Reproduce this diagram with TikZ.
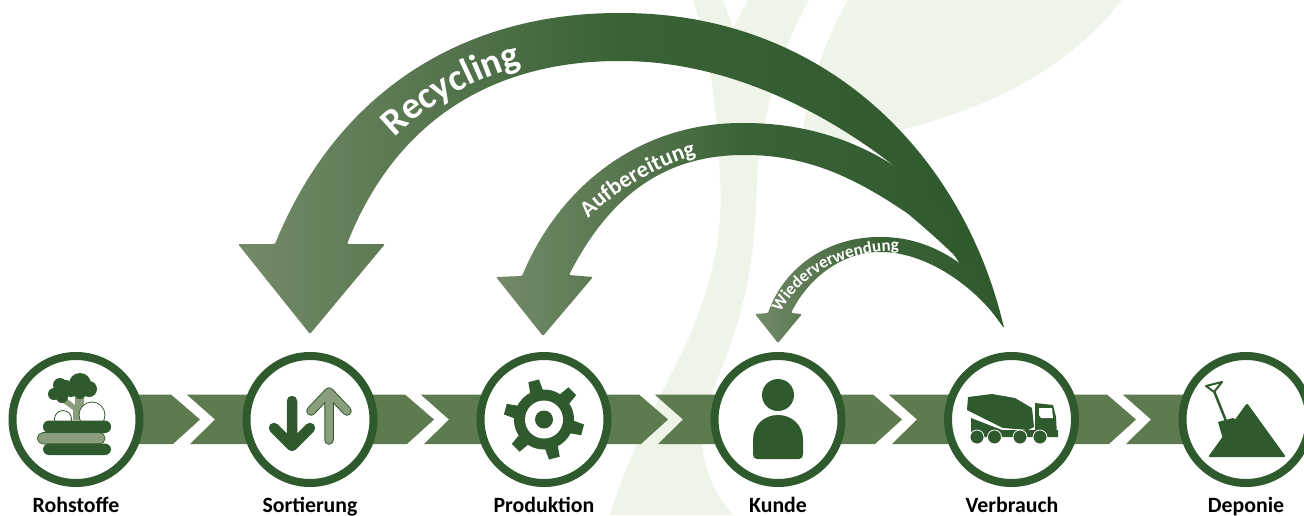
\documentclass[tikz,border=0pt]{standalone}
\usepackage{fontspec}
\setmainfont{Carlito}
\usetikzlibrary{decorations.text}

\definecolor{ringgreen}{HTML}{2F5A2D}
\definecolor{bandgreen}{HTML}{5E7A4F}
\definecolor{palegreen}{HTML}{8A9E7D}
\definecolor{arrowlight}{HTML}{748A68}
\definecolor{leafgreen}{HTML}{EEF5E8}

\tikzset{
    station/.style={circle,draw=ringgreen,line width=8pt,fill=white,minimum size=127pt,inner sep=0pt},
    stationlabel/.style={anchor=base,font=\fontsize{21.8}{24}\selectfont\bfseries,text=black,inner sep=0pt},
    returnarrow/.style={left color=arrowlight,right color=ringgreen,middle color=ringgreen!85!arrowlight,rounded corners=1.2pt},
    band/.style={fill=bandgreen},
    icon/.style={fill=ringgreen},
}

\begin{document}
\begin{tikzpicture}[x=1pt,y=-1pt,>=latex]

    \useasboundingbox (0,0) rectangle (1304,515);

    % leaf
    \fill[leafgreen] (848,0) -- (1122,0) .. controls (1070,65) and (1000,105) .. (900,130)
        .. controls (865,139) and (830,146) .. (800,150) .. controls (805,100) and (820,50) .. cycle;
    \fill[leafgreen] (693,0) -- (723,0) -- (733,28) -- (748,0) -- (809,0)
        .. controls (785,40) and (762,110) .. (757,180)
        .. controls (755,250) and (750,300) .. (717,380)
        .. controls (700,420) and (690,465) .. (733,515)
        -- (610,515) .. controls (625,465) and (650,415) .. (673,370)
        .. controls (700,320) and (725,250) .. (720,180)
        .. controls (718,110) and (708,45) .. cycle;

    % chevrons
    \fill[band] (110,394.5) -- (171,394.5) -- (200,419.5) -- (173,444) -- (110,444) -- cycle;
    \fill[band] (186.7,394.5) -- (280,394.5) -- (280,444) -- (190,444) -- (215,419.5) -- cycle;
    \fill[band] (344,394.5) -- (405,394.5) -- (434,419.5) -- (407,444) -- (344,444) -- cycle;
    \fill[band] (420.7,394.5) -- (514,394.5) -- (514,444) -- (424,444) -- (449,419.5) -- cycle;
    \fill[band] (578,394.5) -- (639,394.5) -- (668,419.5) -- (641,444) -- (578,444) -- cycle;
    \fill[band] (654.7,394.5) -- (748,394.5) -- (748,444) -- (658,444) -- (683,419.5) -- cycle;
    \fill[band] (812,394.5) -- (873,394.5) -- (902,419.5) -- (875,444) -- (812,444) -- cycle;
    \fill[band] (888.7,394.5) -- (982,394.5) -- (982,444) -- (892,444) -- (917,419.5) -- cycle;
    \fill[band] (1046,394.5) -- (1107,394.5) -- (1136,419.5) -- (1109,444) -- (1046,444) -- cycle;
    \fill[band] (1122.7,394.5) -- (1216,394.5) -- (1216,444) -- (1126,444) -- (1151,419.5) -- cycle;

    % stations
    \node[station] (rohstoffe) at (76,419.5) {};
    \node[station] (sortierung) at (310,419.5) {};
    \node[station] (produktion) at (544,419.5) {};
    \node[station] (kunde) at (778,419.5) {};
    \node[station] (verbrauch) at (1011.5,419.5) {};
    \node[station] (deponie) at (1246,419.5) {};

    \node[stationlabel] (rohstoffeText) at (76,512) {Rohstoffe};
    \node[stationlabel] (sortierungText) at (310,512) {Sortierung};
    \node[stationlabel] (produktionText) at (544,512) {Produktion};
    \node[stationlabel] (kundeText) at (778,512) {Kunde};
    \node[stationlabel] (verbrauchText) at (1012,512) {Verbrauch};
    \node[stationlabel] (deponieText) at (1246,512) {Deponie};

    % tree
    \fill[palegreen] (73,420) -- (73,410) -- (62,402) -- (66,398) -- (75,405) -- (75,395) -- (84,395) -- (84,420) -- cycle;
    \fill[icon] (60,385) circle (7) (54,394) circle (6) (62,397) circle (6) (66,386) circle (6);
    \draw[white,fill=ringgreen,line width=.7pt] (80,384) circle (11);
    \fill[icon] (71,389) circle (8) (89,389) circle (8) (80,393) circle (6) (80,384) circle (11);
    \draw[ringgreen,fill=white,line width=.8pt] (63,419) circle (8.5);
    \draw[ringgreen,fill=white,line width=.8pt] (92,415) circle (13);
    \fill[icon,rounded corners=6pt] (43,420.5) rectangle (111,433);
    \draw[ringgreen,fill=palegreen,line width=.7pt,rounded corners=5.5pt] (37.5,432.5) rectangle (105,444);
    \fill[icon,rounded corners=6pt] (43,443.5) rectangle (111,455);

    % arrows
    \draw[ringgreen,line width=10.5pt,line cap=round,line join=round] (292,401) -- (292,446) (274,428) -- (292,446) -- (310,428);
    \draw[ringgreen,line width=9.5pt,line cap=round,line join=round] (329,440) -- (329,392) (311,411) -- (329,392) -- (347,411);
    \draw[palegreen,line width=7.5pt,line cap=round,line join=round] (329,440) -- (329,392) (311,411) -- (329,392) -- (347,411);

    % gear
    \fill[icon] (544,419.5) circle (30);
    \fill[icon,rotate around={-15:(544,419.5)}] (568,412.5) -- (584,414) -- (584,425) -- (568,426.5) -- cycle;
    \fill[icon,rotate around={45:(544,419.5)}] (568,412.5) -- (584,414) -- (584,425) -- (568,426.5) -- cycle;
    \fill[icon,rotate around={105:(544,419.5)}] (568,412.5) -- (584,414) -- (584,425) -- (568,426.5) -- cycle;
    \fill[icon,rotate around={165:(544,419.5)}] (568,412.5) -- (584,414) -- (584,425) -- (568,426.5) -- cycle;
    \fill[icon,rotate around={225:(544,419.5)}] (568,412.5) -- (584,414) -- (584,425) -- (568,426.5) -- cycle;
    \fill[icon,rotate around={285:(544,419.5)}] (568,412.5) -- (584,414) -- (584,425) -- (568,426.5) -- cycle;
    \fill[white] (544,419.5) circle (19);
    \fill[icon] (544,419.5) circle (9);

    % person
    \fill[icon] (778,395) circle (16);
    \fill[icon] (757,459) .. controls (754,459) and (753,457) .. (753,454) -- (753,440)
        .. controls (753,425) and (764,415) .. (778,415) .. controls (792,415) and (803,425) .. (803,440)
        -- (803,454) .. controls (803,457) and (802,459) .. (799,459) -- cycle;

    % truck
    \fill[icon] (968,397) -- (992,394) -- (1015,398) -- (1032,408) -- (1034,427) -- (1028,430) -- (1003,428) -- (967,410) -- cycle;
    \fill[icon] (971,418) -- (1002,430) -- (1058,430) -- (1058,437) -- (971,437) -- cycle;
    \fill[icon] (1035,403) -- (1053,405) -- (1056,417) -- (1057,435) -- (1035,435) -- cycle;
    \fill[white] (1039,408) -- (1052,408) -- (1053,418) -- (1041,418) -- (1039,415) -- cycle;
    \draw[white,line width=.8pt,fill=ringgreen] (977,437) circle (7);
    \draw[white,line width=.8pt,fill=ringgreen] (994.5,437) circle (7);
    \draw[white,line width=.8pt,fill=ringgreen] (1020,437) circle (7);
    \draw[white,line width=.8pt,fill=ringgreen] (1040,437) circle (7);

    % pile
    \draw[ringgreen,line width=2.5pt] (1214,391) -- (1226,421);
    \draw[ringgreen,line width=2pt,line join=round] (1206,386) -- (1222,382) -- (1214,392) -- cycle;
    \fill[icon] (1218,422) -- (1233,418) -- (1245,425) -- (1225,446) -- cycle;
    \fill[icon,rounded corners=2pt] (1208,457) -- (1247,403) -- (1286,457) -- cycle;

    % return arrows
    \shade[returnarrow] (1004,328) .. controls (965,160) and (830,13) .. (620,13)
        .. controls (470,13) and (340,85) .. (275,244) -- (238,244) -- (310,334) -- (385,244) -- (347,244)
        .. controls (400,110) and (505,61) .. (620,61)
        .. controls (720,61) and (815,105) .. (893,165)
        .. controls (930,215) and (975,290) .. cycle;
    \shade[returnarrow] (1004,328) .. controls (985,270) and (945,210) .. (893,165)
        .. controls (845,135) and (795,123) .. (743,123)
        .. controls (640,123) and (560,185) .. (522,276) -- (496,277) -- (543,336) -- (593,277) -- (569,275)
        .. controls (610,195) and (665,155) .. (745,155)
        .. controls (815,155) and (865,185) .. (907,213)
        .. controls (930,232) and (955,255) .. (972,273)
        .. controls (985,292) and (995,310) .. cycle;
    \shade[returnarrow] (1004,328) .. controls (995,305) and (985,285) .. (972,273)
        .. controls (945,250) and (915,237) .. (880,237)
        .. controls (830,237) and (785,265) .. (768,313) -- (755,314) -- (778,343) -- (802,314) -- (791,313)
        .. controls (810,275) and (845,252) .. (880,252)
        .. controls (925,252) and (975,285) .. cycle;

    % return labels
    \path[decorate,decoration={text along path,text color=white,text align=center,
        text={|\fontsize{38}{38}\selectfont\bfseries|Recycling}}]
        (379,154) .. controls (419,107) and (479,74) .. (544,60);
    \path[decorate,decoration={text along path,text color=white,text align=center,
        text={|\fontsize{23}{23}\selectfont\bfseries|Aufbereitung}}]
        (579,228) .. controls (609,195) and (654,165) .. (709,152);
    \path[decorate,decoration={text along path,text color=white,text align=center,
        text={|\fontsize{17}{17}\selectfont\bfseries|Wiederverwendung}}]
        (778,318) .. controls (795,280) and (840,248) .. (905,251);

\end{tikzpicture}
\end{document}
